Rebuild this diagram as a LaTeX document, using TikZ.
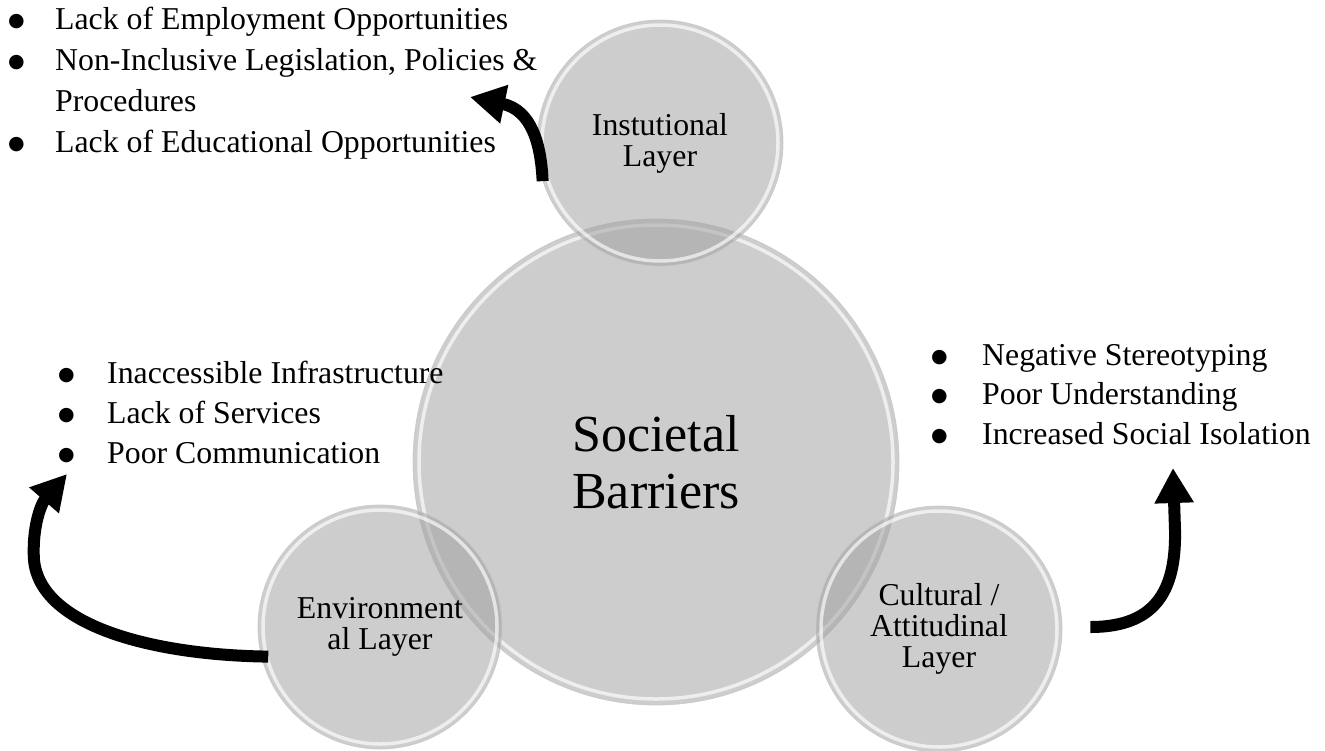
\documentclass[tikz,border=0pt]{standalone}
\usepackage{fontspec}
\setmainfont{Liberation Serif}
\newfontfamily\symfont{DejaVu Sans}
\usetikzlibrary{arrows.meta,calc}
\definecolor{bubblegray}{RGB}{159,159,159}
\newcommand{\bulitem}[1]{\makebox[#1][l]{\raisebox{3pt}{\symfont\fontsize{19}{19}\selectfont ●}}}
\begin{document}
\begin{tikzpicture}[x=1pt,y=-1pt,
  bubble/.style={circle, inner sep=0pt, fill=bubblegray, fill opacity=0.52, text opacity=1,
    draw=gray!45, draw opacity=0.8, line width=0.8pt, align=center,
    font=\fontsize{31.8}{31}\selectfont},
  rim/.style={draw=white, line width=3.5pt, draw opacity=0.65},
  barr/.style={line width=12pt, -{Triangle[length=35pt,width=37pt]}},
  listtext/.style={inner sep=0pt, anchor=base west}
]
\useasboundingbox (0,0) rectangle (1325,750);

\node[bubble, minimum size=486pt, font=\fontsize{52}{57}\selectfont] (core) at (656,462) {Societal\\Barriers};
\draw[rim] (core.center) circle[radius=237pt];

\node[bubble, minimum size=246pt] (inst) at (660,143) {Instutional\\Layer};
\draw[rim] (inst.center) circle[radius=118pt];

\node[bubble, minimum size=244pt] (env) at (380,627) {Environment\\al Layer};
\draw[rim] (env.center) circle[radius=117pt];

\node[bubble, minimum size=246pt] (cult) at (939,629) {Cultural /\\Attitudinal\\Layer};
\draw[rim] (cult.center) circle[radius=118pt];

\node[listtext] (toplist) at (8,29) {\fontsize{31.8}{41}\selectfont
  \begin{tabular}[t]{@{}l@{}l@{}}
  \bulitem{47pt} & Lack of Employment Opportunities\\
  \bulitem{47pt} & Non-Inclusive Legislation, Policies \&\\
   & Procedures\\
  \bulitem{47pt} & Lack of Educational Opportunities
  \end{tabular}};

\node[listtext] (envlist) at (58,383) {\fontsize{31.8}{40}\selectfont
  \begin{tabular}[t]{@{}l@{}l@{}}
  \bulitem{49pt} & Inaccessible Infrastructure\\
  \bulitem{49pt} & Lack of Services\\
  \bulitem{49pt} & Poor Communication
  \end{tabular}};

\node[listtext] (cultlist) at (931,365) {\fontsize{31.8}{39.5}\selectfont
  \begin{tabular}[t]{@{}l@{}l@{}}
  \bulitem{51pt} & Negative Stereotyping\\
  \bulitem{51pt} & Poor Understanding\\
  \bulitem{51pt} & Increased Social Isolation
  \end{tabular}};

\coordinate (t1) at (470,97);
\coordinate (t2) at (67,474);
\coordinate (t3) at (1173,468);

\draw[barr] (inst.198) .. controls (541,145) and (532,110) .. (t1);
\draw[barr] ([xshift=7pt]env.194) .. controls (150,655) and (40,625) .. (34,560)
  .. controls (32,530) and (40,505) .. (t2);
\draw[barr] ([shift={(28pt,2pt)}]cult.east) .. controls (1160,627) and (1176,585) .. (1175,530) -- (t3);
\end{tikzpicture}
\end{document}
